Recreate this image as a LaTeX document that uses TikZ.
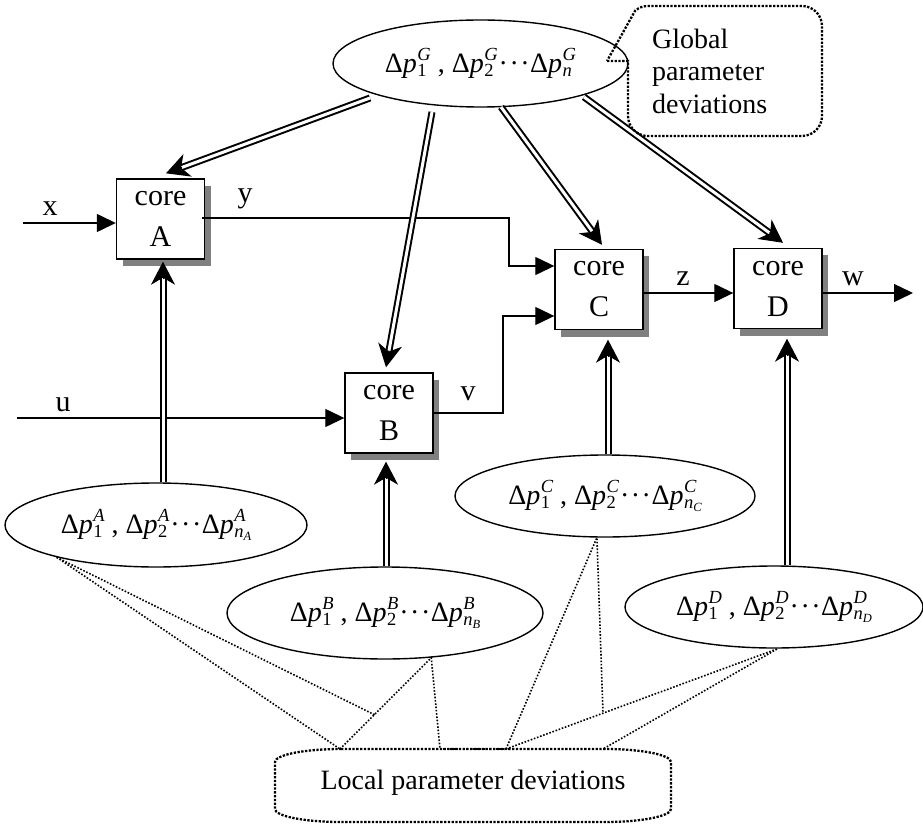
\documentclass[tikz,border=0pt]{standalone}
\usepackage{fontspec}
\setmainfont{Liberation Serif}
\usetikzlibrary{arrows.meta,shapes.geometric,shadows,calc}
\newcommand\scrf{\fontsize{18.5}{18.5}\selectfont}
\newcommand\sscrf{\fontsize{12.5}{12.5}\selectfont}
\newcommand\dpe[2]{Δ\textit{p}\kern0.5pt\setbox0=\hbox{\scrf\itshape #1}\setbox2=\hbox{\scrf #2}\ifdim\wd0<\wd2 \wd0=\wd2\relax\fi\rlap{\raisebox{-4pt}{\box2}}\raisebox{11.5pt}{\box0}}
\newcommand\nsub[1]{\textit{n}\raisebox{-3pt}{\sscrf\itshape #1}}
\newcommand\cdotsx{\kern1pt·\kern1.5pt·\kern1.5pt·\kern0.5pt}
\begin{document}
\begin{tikzpicture}[x=1pt,y=-1pt,
  corebox/.style={draw, line width=1.4pt, fill=white, minimum width=88pt, minimum height=80pt,
    inner sep=0pt, align=center, font=\fontsize{30}{41}\selectfont,
    drop shadow={shadow xshift=6pt, shadow yshift=-7pt, fill=black!50, opacity=1}},
  ell/.style={ellipse, draw, line width=1.4pt, inner sep=0pt, font=\fontsize{28}{30}\selectfont},
  lbl/.style={font=\fontsize{30}{32}\selectfont, inner sep=0pt},
  arr/.style={line width=1.3pt, -{Triangle[length=19pt,width=18pt]}},
  dblline/.style={double, double distance=3pt, line width=2pt, shorten >=13pt},
  dbltip/.style={line width=1pt, -{Stealth[length=23pt,width=24pt,inset=7pt]}},
  cdot/.style={line width=2.3pt, dash pattern=on 2.3pt off 1.5pt},
  pdot/.style={line width=1.6pt, dash pattern=on 1.6pt off 1.7pt}]
\useasboundingbox (0,0) rectangle (923,826);

% core boxes
\node[corebox] (A) at (160.5,219) {core\\A};
\node[corebox] (B) at (389,413) {core\\B};
\node[corebox] (C) at (599,289.5) {core\\C};
\node[corebox] (D) at (778,288.5) {core\\D};

% ellipses
\node[ell, minimum width=295pt, minimum height=87pt] (G) at (480.5,63.5)
  {\dpe{G}{1} , \dpe{G}{2}\cdotsx\dpe{G}{\textit{n}}};
\node[ell, minimum width=302pt, minimum height=84pt] (EA) at (156,525)
  {\dpe{A}{1} , \dpe{A}{2}\cdotsx\dpe{A}{\nsub{A}}};
\node[ell, minimum width=316pt, minimum height=92pt] (EB) at (385,613)
  {\dpe{B}{1} , \dpe{B}{2}\cdotsx\dpe{B}{\nsub{B}}};
\node[ell, minimum width=300pt, minimum height=82pt] (EC) at (605,496)
  {\dpe{C}{1} , \dpe{C}{2}\cdotsx\dpe{C}{\nsub{C}}};
\node[ell, minimum width=298pt, minimum height=82pt] (ED) at (774,607)
  {\dpe{D}{1} , \dpe{D}{2}\cdotsx\dpe{D}{\nsub{D}}};

% signal lines
\coordinate (xin) at (23,223);
\coordinate (uin) at (17,418);
\coordinate (yc) at (509,266);
\coordinate (vc) at (503,316);
\coordinate (zs) at ($(C.east)+(0,3.5)$);
\coordinate (ws) at ($(D.east)+(0,4.5)$);
\coordinate (wend) at (913,293);
\draw[arr] (xin) -- (xin -| A.west);
\draw[arr] ($(A.east)+(-3,-1)$) -| (yc) -- (yc -| C.west);
\draw[arr] (uin) -- (uin -| B.west);
\draw[arr] (B.east) -| (vc) -- (vc -| C.west);
\draw[arr] (zs) -- (zs -| D.west);
\draw[arr] (ws) -- (wend);

\node[lbl] (lx) at (50,209) {x};
\node[lbl] (ly) at (245,199) {y};
\node[lbl] (lu) at (63,405) {u};
\node[lbl] (lv) at (468,394) {v};
\node[lbl] (lz) at (683,279) {z};
\node[lbl] (lw) at (853,279) {w};

% deviation arrows: start and end points
\coordinate (gaS) at ($(G.center)+(-110.5,34.5)$);
\coordinate (gaE) at ($(A.north)+(5.5,-5)$);
\coordinate (gbS) at ($(G.center)+(-48.5,48.5)$);
\coordinate (gbE) at ($(B.north)+(-3,-5)$);
\coordinate (gcS) at ($(G.center)+(20.5,43.5)$);
\coordinate (gcE) at ($(C.north)+(3,-4)$);
\coordinate (gdS) at ($(G.center)+(103.5,33.5)$);
\coordinate (gdE) at ($(D.north)+(5,-5)$);
\coordinate (laS) at ($(EA.north)+(7,0)$);
\coordinate (laE) at ($(A.south)+(2.5,2)$);
\coordinate (lbS) at ($(EB.north)+(1,0)$);
\coordinate (lbE) at ($(B.south)+(-3,8)$);
\coordinate (lcS) at ($(EC.north)+(3,0)$);
\coordinate (lcE) at ($(C.south)+(9,9.5)$);
\coordinate (ldS) at ($(ED.north)+(13,0)$);
\coordinate (ldE) at ($(D.south)+(9,9.5)$);
\foreach \s/\e in {gaS/gaE, gbS/gbE, gcS/gcE, gdS/gdE, laS/laE, lbS/lbE, lcS/lcE, ldS/ldE}{
  \draw[dblline] (\s) -- (\e);
  \draw[dbltip] ($(\e)!17pt!(\s)$) -- (\e);
}

% Global callout
\node[font=\fontsize{28}{32.5}\selectfont, align=left, anchor=west, inner sep=0pt] (GT) at (652,71)
  {Global\\parameter\\deviations};
\draw[cdot] (607,61) -- (628,61) -- (628,116) arc[start angle=180,end angle=270,radius=20pt]
  -- (802,136) arc[start angle=270,end angle=360,radius=20pt]
  -- (822,26) arc[start angle=0,end angle=90,radius=20pt]
  -- (648,6) arc[start angle=90,end angle=130,radius=20pt] -- cycle;

% Local callout
\node[font=\fontsize{28}{32}\selectfont, inner sep=0pt] (LT) at (473,783) {Local parameter deviations};
\draw[cdot] (341,749) -- (605,749) arc[start angle=90,end angle=0,x radius=66pt,y radius=13pt]
  -- (671,809) arc[start angle=0,end angle=-90,x radius=66pt,y radius=13pt]
  -- (341,822) arc[start angle=270,end angle=180,x radius=66pt,y radius=13pt]
  -- (275,762) arc[start angle=180,end angle=90,x radius=66pt,y radius=13pt] -- cycle;

\coordinate (L1) at (340,749);
\coordinate (L2) at (440,749);
\coordinate (L3) at (506,749);
\coordinate (L4) at (603,749);
\coordinate (P1) at (375,715);
\coordinate (P2) at (603,713);
\draw[pdot] (EA.198) -- (P1);
\draw[pdot] (EA.198) -- (L1);
\draw[pdot] (L1) -- (EB.316) -- (L2);
\draw[pdot] (L2) -- (L3);
\draw[pdot] (L3) -- (EC.259) -- (P2);
\draw[pdot] (L3) -- (ED.275) -- (L4);
\end{tikzpicture}
\end{document}
